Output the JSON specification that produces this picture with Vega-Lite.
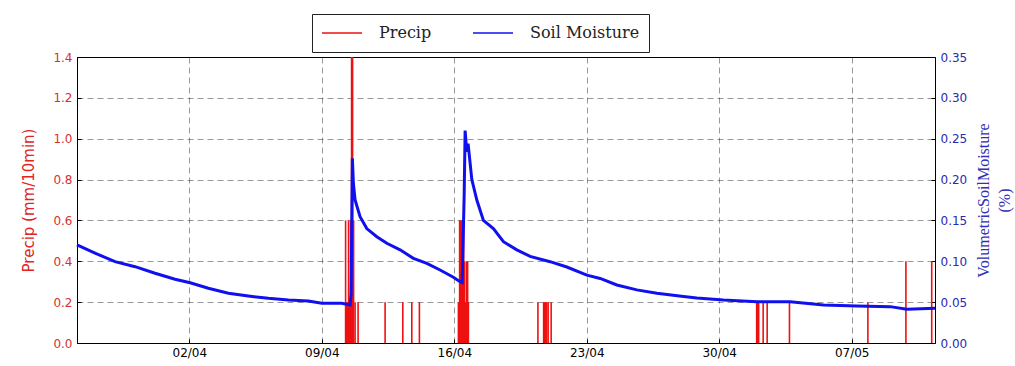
{
  "$schema": "https://vega.github.io/schema/vega-lite/v6.json",
  "width": 858,
  "height": 286,
  "autosize": {"type": "none"},
  "padding": {"left": 77, "top": 57, "right": 80, "bottom": 23},
  "background": "white",
  "config": {
    "view": {"stroke": "black", "strokeWidth": 1},
    "axis": {"domain": false, "labelFont": "DejaVu Sans", "labelFontSize": 12, "gridDash": [6, 4], "gridColor": "black", "gridWidth": 0.5, "gridOpacity": 0.8, "tickColor": "black", "tickSize": -4}
  },
  "datasets": {
    "precip": [
      {"time": "2017-04-10T06:09:00Z", "precip": 0.6, "series": "Precip"},
      {"time": "2017-04-10T07:25:00Z", "precip": 0.2, "series": "Precip"},
      {"time": "2017-04-10T08:41:00Z", "precip": 0.2, "series": "Precip"},
      {"time": "2017-04-10T09:56:00Z", "precip": 0.6, "series": "Precip"},
      {"time": "2017-04-10T11:12:00Z", "precip": 0.2, "series": "Precip"},
      {"time": "2017-04-10T12:29:00Z", "precip": 0.6, "series": "Precip"},
      {"time": "2017-04-10T13:45:00Z", "precip": 1.4, "series": "Precip"},
      {"time": "2017-04-10T15:01:00Z", "precip": 1.4, "series": "Precip"},
      {"time": "2017-04-10T16:18:00Z", "precip": 0.6, "series": "Precip"},
      {"time": "2017-04-10T18:11:00Z", "precip": 0.2, "series": "Precip"},
      {"time": "2017-04-10T22:00:00Z", "precip": 0.2, "series": "Precip"},
      {"time": "2017-04-12T08:15:00Z", "precip": 0.2, "series": "Precip"},
      {"time": "2017-04-13T06:42:00Z", "precip": 0.2, "series": "Precip"},
      {"time": "2017-04-13T18:07:00Z", "precip": 0.2, "series": "Precip"},
      {"time": "2017-04-14T03:46:00Z", "precip": 0.2, "series": "Precip"},
      {"time": "2017-04-16T05:14:00Z", "precip": 0.2, "series": "Precip"},
      {"time": "2017-04-16T06:45:00Z", "precip": 0.6, "series": "Precip"},
      {"time": "2017-04-16T08:01:00Z", "precip": 0.6, "series": "Precip"},
      {"time": "2017-04-16T09:17:00Z", "precip": 0.6, "series": "Precip"},
      {"time": "2017-04-16T10:34:00Z", "precip": 0.6, "series": "Precip"},
      {"time": "2017-04-16T11:50:00Z", "precip": 0.6, "series": "Precip"},
      {"time": "2017-04-16T13:05:00Z", "precip": 0.4, "series": "Precip"},
      {"time": "2017-04-16T14:21:00Z", "precip": 0.2, "series": "Precip"},
      {"time": "2017-04-16T15:37:00Z", "precip": 0.4, "series": "Precip"},
      {"time": "2017-04-16T16:54:00Z", "precip": 0.4, "series": "Precip"},
      {"time": "2017-04-16T17:54:00Z", "precip": 0.2, "series": "Precip"},
      {"time": "2017-04-20T10:05:00Z", "precip": 0.2, "series": "Precip"},
      {"time": "2017-04-20T17:18:00Z", "precip": 0.2, "series": "Precip"},
      {"time": "2017-04-20T18:35:00Z", "precip": 0.2, "series": "Precip"},
      {"time": "2017-04-20T19:51:00Z", "precip": 0.2, "series": "Precip"},
      {"time": "2017-04-20T21:07:00Z", "precip": 0.2, "series": "Precip"},
      {"time": "2017-04-20T23:01:00Z", "precip": 0.2, "series": "Precip"},
      {"time": "2017-04-21T02:50:00Z", "precip": 0.2, "series": "Precip"},
      {"time": "2017-05-01T23:30:00Z", "precip": 0.2, "series": "Precip"},
      {"time": "2017-05-02T00:46:00Z", "precip": 0.2, "series": "Precip"},
      {"time": "2017-05-02T02:02:00Z", "precip": 0.2, "series": "Precip"},
      {"time": "2017-05-02T07:44:00Z", "precip": 0.2, "series": "Precip"},
      {"time": "2017-05-02T12:49:00Z", "precip": 0.2, "series": "Precip"},
      {"time": "2017-05-03T17:05:00Z", "precip": 0.2, "series": "Precip"},
      {"time": "2017-05-07T20:32:00Z", "precip": 0.2, "series": "Precip"},
      {"time": "2017-05-09T20:46:00Z", "precip": 0.4, "series": "Precip"},
      {"time": "2017-05-11T05:30:00Z", "precip": 0.4, "series": "Precip"}
    ],
    "soil": [
      {"time": "2017-03-27T01:30:00Z", "moisture": 0.120, "series": "Soil Moisture"},
      {"time": "2017-03-28T00:20:00Z", "moisture": 0.110, "series": "Soil Moisture"},
      {"time": "2017-03-29T01:45:00Z", "moisture": 0.0995, "series": "Soil Moisture"},
      {"time": "2017-03-30T03:10:00Z", "moisture": 0.0934, "series": "Soil Moisture"},
      {"time": "2017-03-31T04:30:00Z", "moisture": 0.0853, "series": "Soil Moisture"},
      {"time": "2017-04-01T05:50:00Z", "moisture": 0.078, "series": "Soil Moisture"},
      {"time": "2017-04-02T01:00:00Z", "moisture": 0.0738, "series": "Soil Moisture"},
      {"time": "2017-04-03T00:05:00Z", "moisture": 0.067, "series": "Soil Moisture"},
      {"time": "2017-04-04T01:30:00Z", "moisture": 0.0608, "series": "Soil Moisture"},
      {"time": "2017-04-05T02:50:00Z", "moisture": 0.0575, "series": "Soil Moisture"},
      {"time": "2017-04-06T04:10:00Z", "moisture": 0.0547, "series": "Soil Moisture"},
      {"time": "2017-04-07T05:35:00Z", "moisture": 0.0526, "series": "Soil Moisture"},
      {"time": "2017-04-08T07:00:00Z", "moisture": 0.0514, "series": "Soil Moisture"},
      {"time": "2017-04-09T00:00:00Z", "moisture": 0.0486, "series": "Soil Moisture"},
      {"time": "2017-04-10T01:20:00Z", "moisture": 0.0486, "series": "Soil Moisture"},
      {"time": "2017-04-10T11:50:00Z", "moisture": 0.0465, "series": "Soil Moisture"},
      {"time": "2017-04-10T13:10:00Z", "moisture": 0.060, "series": "Soil Moisture"},
      {"time": "2017-04-10T14:45:00Z", "moisture": 0.226, "series": "Soil Moisture"},
      {"time": "2017-04-10T16:00:00Z", "moisture": 0.1955, "series": "Soil Moisture"},
      {"time": "2017-04-10T18:10:00Z", "moisture": 0.175, "series": "Soil Moisture"},
      {"time": "2017-04-11T00:30:00Z", "moisture": 0.1545, "series": "Soil Moisture"},
      {"time": "2017-04-11T09:00:00Z", "moisture": 0.140, "series": "Soil Moisture"},
      {"time": "2017-04-11T21:45:00Z", "moisture": 0.130, "series": "Soil Moisture"},
      {"time": "2017-04-12T10:25:00Z", "moisture": 0.122, "series": "Soil Moisture"},
      {"time": "2017-04-13T03:15:00Z", "moisture": 0.114, "series": "Soil Moisture"},
      {"time": "2017-04-13T20:10:00Z", "moisture": 0.1036, "series": "Soil Moisture"},
      {"time": "2017-04-14T13:10:00Z", "moisture": 0.0975, "series": "Soil Moisture"},
      {"time": "2017-04-15T06:00:00Z", "moisture": 0.0893, "series": "Soil Moisture"},
      {"time": "2017-04-15T22:50:00Z", "moisture": 0.0804, "series": "Soil Moisture"},
      {"time": "2017-04-16T07:20:00Z", "moisture": 0.075, "series": "Soil Moisture"},
      {"time": "2017-04-16T10:00:00Z", "moisture": 0.074, "series": "Soil Moisture"},
      {"time": "2017-04-16T12:30:00Z", "moisture": 0.180, "series": "Soil Moisture"},
      {"time": "2017-04-16T13:45:00Z", "moisture": 0.260, "series": "Soil Moisture"},
      {"time": "2017-04-16T15:50:00Z", "moisture": 0.234, "series": "Soil Moisture"},
      {"time": "2017-04-16T17:30:00Z", "moisture": 0.244, "series": "Soil Moisture"},
      {"time": "2017-04-16T22:15:00Z", "moisture": 0.200, "series": "Soil Moisture"},
      {"time": "2017-04-17T04:35:00Z", "moisture": 0.175, "series": "Soil Moisture"},
      {"time": "2017-04-17T12:55:00Z", "moisture": 0.150, "series": "Soil Moisture"},
      {"time": "2017-04-18T01:35:00Z", "moisture": 0.140, "series": "Soil Moisture"},
      {"time": "2017-04-18T14:20:00Z", "moisture": 0.124, "series": "Soil Moisture"},
      {"time": "2017-04-19T07:20:00Z", "moisture": 0.114, "series": "Soil Moisture"},
      {"time": "2017-04-20T00:10:00Z", "moisture": 0.106, "series": "Soil Moisture"},
      {"time": "2017-04-21T01:30:00Z", "moisture": 0.0995, "series": "Soil Moisture"},
      {"time": "2017-04-21T22:45:00Z", "moisture": 0.093, "series": "Soil Moisture"},
      {"time": "2017-04-23T00:05:00Z", "moisture": 0.083, "series": "Soil Moisture"},
      {"time": "2017-04-23T17:00:00Z", "moisture": 0.079, "series": "Soil Moisture"},
      {"time": "2017-04-24T14:10:00Z", "moisture": 0.071, "series": "Soil Moisture"},
      {"time": "2017-04-25T15:30:00Z", "moisture": 0.065, "series": "Soil Moisture"},
      {"time": "2017-04-26T16:55:00Z", "moisture": 0.061, "series": "Soil Moisture"},
      {"time": "2017-04-28T02:40:00Z", "moisture": 0.057, "series": "Soil Moisture"},
      {"time": "2017-04-28T19:40:00Z", "moisture": 0.055, "series": "Soil Moisture"},
      {"time": "2017-04-30T05:20:00Z", "moisture": 0.0526, "series": "Soil Moisture"},
      {"time": "2017-05-01T23:45:00Z", "moisture": 0.0506, "series": "Soil Moisture"},
      {"time": "2017-05-03T18:00:00Z", "moisture": 0.0506, "series": "Soil Moisture"},
      {"time": "2017-05-05T12:15:00Z", "moisture": 0.0465, "series": "Soil Moisture"},
      {"time": "2017-05-07T06:35:00Z", "moisture": 0.0453, "series": "Soil Moisture"},
      {"time": "2017-05-09T00:50:00Z", "moisture": 0.0445, "series": "Soil Moisture"},
      {"time": "2017-05-09T22:00:00Z", "moisture": 0.0412, "series": "Soil Moisture"},
      {"time": "2017-05-11T09:40:00Z", "moisture": 0.0425, "series": "Soil Moisture"}
    ]
  },
  "layer": [
    {
      "data": {"name": "precip"},
      "mark": {"type": "rule", "strokeWidth": 1.6},
      "encoding": {
        "x": {
          "field": "time", "type": "temporal",
          "scale": {"type": "utc", "domain": [{"year": 2017, "month": 3, "date": 27, "hours": 1, "minutes": 30, "utc": true}, {"year": 2017, "month": 5, "date": 11, "hours": 9, "minutes": 40, "utc": true}]},
          "axis": {"title": null, "format": "%d/%m", "tickCount": {"interval": "week", "step": 1}, "grid": true, "labelColor": "black", "labelPadding": 8}
        },
        "y": {
          "field": "precip", "type": "quantitative",
          "scale": {"domain": [0, 1.4], "nice": false},
          "axis": {"title": "Precip (mm/10min)", "titleColor": "#e02424", "titleFont": "DejaVu Sans", "titleFontSize": 15, "titleFontWeight": "normal", "titlePadding": 16, "values": [0, 0.2, 0.4, 0.6, 0.8, 1.0, 1.2, 1.4], "format": ".1f", "labelColor": "#d93030", "grid": true, "labelPadding": 9}
        },
        "y2": {"datum": 0},
        "color": {
          "field": "series", "type": "nominal",
          "scale": {"domain": ["Precip", "Soil Moisture"], "range": ["#ee1111", "#1010ee"]},
          "legend": {"orient": "none", "legendX": 235, "legendY": -43, "direction": "horizontal", "title": null, "strokeColor": "#222", "fillColor": "white", "padding": 9, "clipHeight": 20, "symbolType": "stroke", "symbolSize": 1600, "symbolStrokeWidth": 1.3, "labelFont": "DejaVu Serif", "labelFontSize": 16, "labelColor": "#222", "labelOffset": 16, "columnPadding": 40}
        }
      }
    },
    {
      "data": {"name": "soil"},
      "mark": {"type": "line", "strokeWidth": 3},
      "encoding": {
        "x": {"field": "time", "type": "temporal"},
        "y": {
          "field": "moisture", "type": "quantitative",
          "scale": {"domain": [0, 0.35], "nice": false},
          "axis": {"orient": "right", "title": ["VolumetricSoilMoisture", "(%)"], "titleColor": "#3030b8", "titleFont": "Liberation Serif", "titleFontSize": 16, "titleFontWeight": "normal", "titleAngle": 270, "titleLineHeight": 21, "titlePadding": 4, "values": [0, 0.05, 0.1, 0.15, 0.2, 0.25, 0.3, 0.35], "format": ".2f", "labelColor": "#2a2ab0", "grid": false, "labelPadding": 9}
        },
        "color": {"field": "series", "type": "nominal"}
      }
    }
  ],
  "resolve": {"scale": {"y": "independent"}}
}
